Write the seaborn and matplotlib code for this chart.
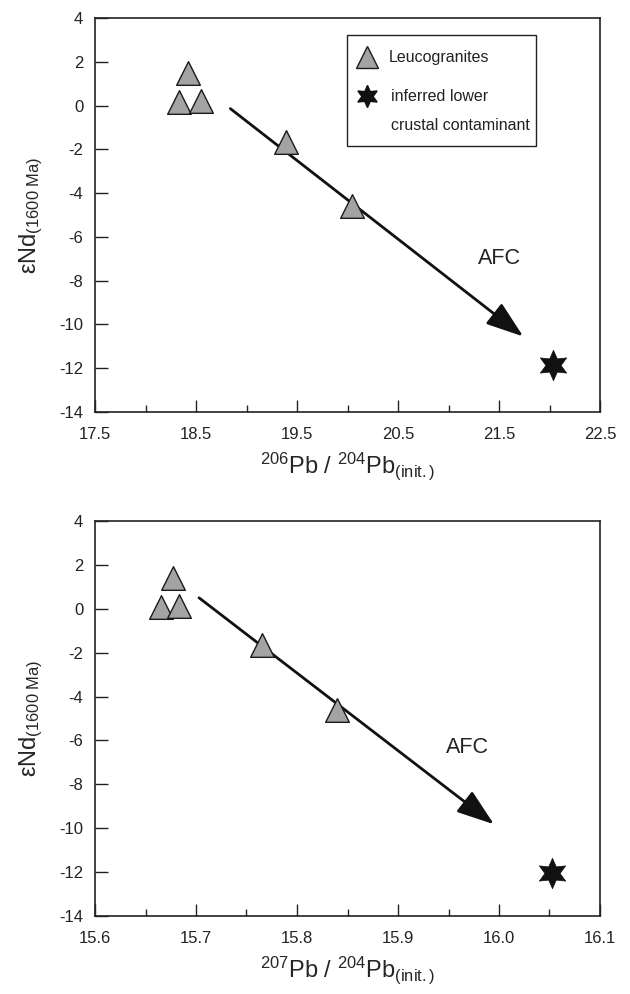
import matplotlib
matplotlib.use("Agg")
import matplotlib.pyplot as plt
from matplotlib.patches import Rectangle
from matplotlib.ticker import MultipleLocator
import seaborn as sns
import pandas as pd

# ---- data (top panel: 206Pb/204Pb) ----
leuco_206 = [18.42, 18.33, 18.55, 19.39, 20.04]
leuco_end_top = [1.5, 0.15, 0.2, -1.65, -4.6]
contam_206 = [22.03]
contam_end_top = [-11.85]
afc_top_start = (18.84, -0.14)
afc_top_end = (21.74, -10.55)
afc_top_label = (21.5, -7.0)

# ---- data (bottom panel: 207Pb/204Pb) ----
leuco_207 = [15.677, 15.665, 15.683, 15.765, 15.840]
leuco_end_bot = [1.41, 0.09, 0.14, -1.64, -4.59]
contam_207 = [16.052]
contam_end_bot = [-12.05]
afc_bot_start = (15.703, 0.5)
afc_bot_end = (15.995, -9.82)
afc_bot_label = (15.969, -6.3)

x_ticks_top = [17.5, 18.5, 19.5, 20.5, 21.5, 22.5]
x_ticks_bot = [15.6, 15.7, 15.8, 15.9, 16.0, 16.1]
y_ticks = [4, 2, 0, -2, -4, -6, -8, -10, -12, -14]

sns.set_theme(style="ticks")
plt.rcParams['font.family'] = ['Liberation Sans', 'DejaVu Sans']
plt.rcParams['mathtext.fontset'] = 'custom'
plt.rcParams['mathtext.rm'] = 'Liberation Sans'
plt.rcParams['mathtext.it'] = 'Liberation Sans'

W, H = 630, 994
fig = plt.figure(figsize=(W / 100, H / 100), dpi=100)

def axes_px(l, t, r, b):
    return fig.add_axes([l / W, 1 - b / H, (r - l) / W, (b - t) / H])

ax1 = axes_px(95, 18, 600, 412)
ax2 = axes_px(95, 521, 600, 916)

TRI = dict(marker='^', s=290, color='#a3a3a3', edgecolor='#1a1a1a', linewidth=1.0, zorder=3)
STAR = dict(marker=(6, 1, 0), s=480, color='#111111', edgecolor='#111111', linewidth=0.5, zorder=3)
ylab = 'εNd$_{\\mathregular{(1600\\ Ma)}}$'


def style(ax, xlim, ticks, minor, xlabel):
    ax.set_xlim(*xlim)
    ax.set_ylim(-14, 4)
    ax.set_xticks(ticks)
    ax.set_xticklabels([f"{t:.1f}" for t in ticks])
    ax.xaxis.set_minor_locator(MultipleLocator(minor))
    ax.set_yticks(y_ticks)
    ax.set_yticklabels([str(t) for t in y_ticks])
    ax.tick_params(axis='both', which='major', direction='in', length=9, width=1.0,
                   labelsize=12, colors='#222222')
    ax.tick_params(axis='x', which='major', pad=11)
    ax.tick_params(axis='y', which='major', pad=8.5)
    ax.tick_params(axis='x', which='minor', direction='in', length=5, width=1.0)
    ax.tick_params(axis='y', which='minor', left=False)
    for sp in ax.spines.values():
        sp.set_linewidth(1.2)
        sp.set_color('#222222')
    ax.set_xlabel(xlabel, fontsize=17, labelpad=6)
    ax.set_ylabel(ylab, fontsize=17, labelpad=10)


def draw(ax, lx, ly, cx, cy, a0, a1, lab):
    df = pd.DataFrame({'x': lx, 'y': ly})
    sns.scatterplot(data=df, x='x', y='y', ax=ax, legend=False, **TRI)
    dc = pd.DataFrame({'x': cx, 'y': cy})
    sns.scatterplot(data=dc, x='x', y='y', ax=ax, legend=False, **STAR)
    ax.annotate('', xy=a1, xytext=a0,
                arrowprops=dict(arrowstyle='-|>,head_length=1.15,head_width=0.4',
                                mutation_scale=20, lw=2.0, color='#111111',
                                shrinkA=0, shrinkB=0), zorder=2)
    ax.text(lab[0], lab[1], 'AFC', fontsize=15.5, ha='center', va='center', color='#222222')


draw(ax1, leuco_206, leuco_end_top, contam_206, contam_end_top,
     afc_top_start, afc_top_end, afc_top_label)
style(ax1, (17.5, 22.5), x_ticks_top, 0.5,
      '$^{\\mathregular{206}}$Pb / $^{\\mathregular{204}}$Pb$_{\\mathregular{(init.)}}$')

draw(ax2, leuco_207, leuco_end_bot, contam_207, contam_end_bot,
     afc_bot_start, afc_bot_end, afc_bot_label)
style(ax2, (15.6, 16.1), x_ticks_bot, 0.05,
      '$^{\\mathregular{207}}$Pb / $^{\\mathregular{204}}$Pb$_{\\mathregular{(init.)}}$')

# legend box (top panel)
ax1.add_patch(Rectangle((0.499, 0.675), 0.374, 0.282, transform=ax1.transAxes,
                        fill=False, edgecolor='#222222', linewidth=1.0, zorder=4))
ax1.plot([0.539], [0.901], transform=ax1.transAxes, marker='^', markersize=15.5,
         color='#a3a3a3', markeredgecolor='#1a1a1a', markeredgewidth=1.0, zorder=5, ls='none')
ax1.plot([0.539], [0.802], transform=ax1.transAxes, marker=(6, 1, 0), markersize=16,
         color='#111111', zorder=5, ls='none')
ax1.text(0.582, 0.901, 'Leucogranites', transform=ax1.transAxes, fontsize=11.5,
         va='center', ha='left', color='#222222')
ax1.text(0.586, 0.802, 'inferred lower', transform=ax1.transAxes, fontsize=11.5,
         va='center', ha='left', color='#222222')
ax1.text(0.586, 0.726, 'crustal contaminant', transform=ax1.transAxes, fontsize=11.5,
         va='center', ha='left', color='#222222')

fig.savefig('out.png', dpi=100)
